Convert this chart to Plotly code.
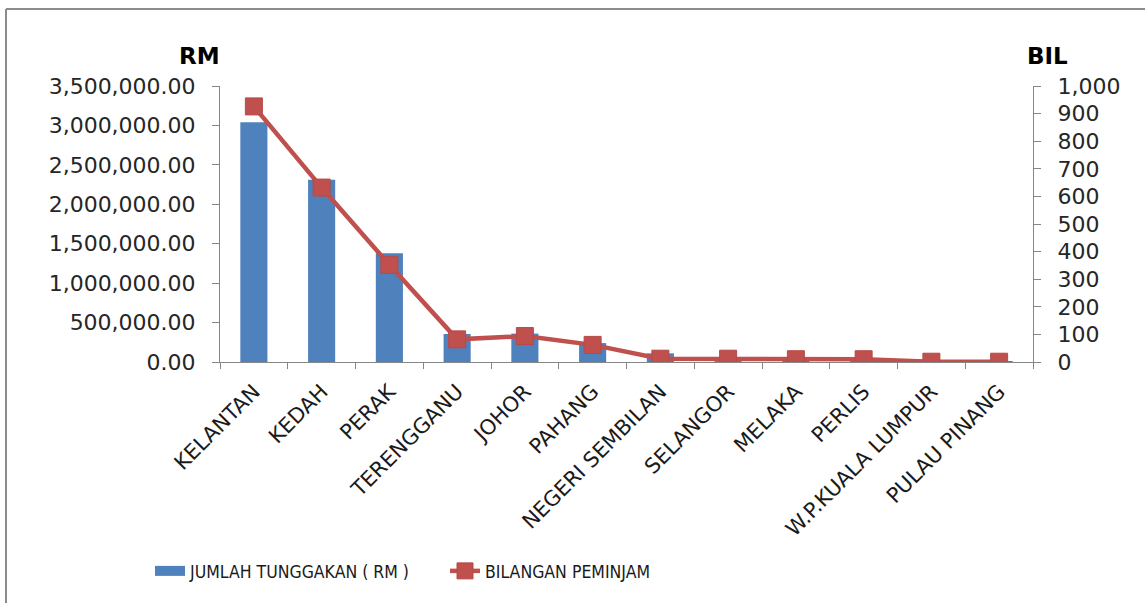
import plotly.graph_objects as go

# ---- data ----
states = ["KELANTAN", "KEDAH", "PERAK", "TERENGGANU", "JOHOR", "PAHANG",
          "NEGERI SEMBILAN", "SELANGOR", "MELAKA", "PERLIS",
          "W.P.KUALA LUMPUR", "PULAU PINANG"]
tunggakan_rm = [3040000, 2310000, 1380000, 355000, 360000, 240000,
                110000, 50000, 40000, 40000, 20000, 10000]
bil_peminjam = [926, 632, 352, 82, 94, 62, 12, 12, 10, 10, 1, 1]

BAR_NAME = "JUMLAH TUNGGAKAN ( RM )"
LINE_NAME = "BILANGAN PEMINJAM"

BLUE = "#4F81BD"
RED = "#C0504D"
AX = "#868686"

W, H = 1145, 603
L, R, T, B = 220, 1033, 86, 362  # plot area pixel bounds


def px(x):
    return (x - L) / (R - L)


def py(y):
    return (B - y) / (B - T)


tick_font = dict(family="DejaVu Sans", size=22, color="#262626")

fig = go.Figure()
fig.add_trace(go.Bar(x=states, y=tunggakan_rm, name=BAR_NAME, marker_color=BLUE,
                     marker_line_width=0, showlegend=False, legendgroup="bar",
                     yaxis="y"))
# legend swatch for the bar series (wide rectangle like the original)
fig.add_trace(go.Scatter(x=[None], y=[None], mode="lines", name=BAR_NAME,
                         line=dict(color=BLUE, width=13), legendgroup="bar",
                         showlegend=True, yaxis="y"))
fig.add_trace(go.Scatter(x=states, y=bil_peminjam, name=LINE_NAME, mode="lines+markers",
                         line=dict(color=RED, width=4.5),
                         marker=dict(symbol="square", size=17, color=RED,
                                     line=dict(color="#B64A47", width=1)),
                         yaxis="y2"))

fig.update_layout(
    width=W, height=H,
    margin=dict(l=L, r=W - R, t=T, b=H - B),
    paper_bgcolor="white", plot_bgcolor="white",
    bargap=0.6,
    showlegend=True,
    legend=dict(orientation="h", x=px(150), xanchor="left", y=py(571), yanchor="middle",
                font=dict(family="DejaVu Sans Condensed, DejaVu Sans, sans-serif",
                          size=17.5, color="#1a1a1a"),
                entrywidth=250, entrywidthmode="pixels", itemwidth=30,
                bgcolor="rgba(0,0,0,0)"),
    xaxis=dict(type="category", tickangle=-45, showline=True, linecolor=AX, linewidth=1,
               ticks="outside", tickson="boundaries", ticklen=6, tickcolor=AX,
               showgrid=False, tickfont=dict(family="DejaVu Sans", size=21, color="#1a1a1a"),
               ticklabelstandoff=8,
               range=[-0.5, len(states) - 0.5]),
    yaxis=dict(range=[0, 3500000], dtick=500000, tickformat=",.2f", showline=True,
               linecolor=AX, linewidth=1, ticks="outside", ticklen=7, tickcolor=AX,
               showgrid=False, zeroline=False, tickfont=tick_font, ticklabelstandoff=12),
    yaxis2=dict(range=[0, 1000], dtick=100, tickformat=",", overlaying="y", side="right",
                showline=True, linecolor=AX, linewidth=1, ticks="outside", ticklen=7,
                tickcolor=AX, showgrid=False, zeroline=False, tickfont=tick_font,
                ticklabelstandoff=12),
    annotations=[
        dict(text="<b>RM</b>", x=px(222), y=py(56), xref="paper", yref="paper",
             xanchor="right", yanchor="middle", showarrow=False,
             font=dict(family="DejaVu Sans", size=23, color="black")),
        dict(text="<b>BIL</b>", x=px(1025), y=py(56), xref="paper", yref="paper",
             xanchor="left", yanchor="middle", showarrow=False,
             font=dict(family="DejaVu Sans", size=23, color="black")),
    ],
    shapes=[
        dict(type="line", xref="paper", yref="paper", x0=px(6), x1=px(6), y0=py(9), y1=py(610),
             line=dict(color="#8c8c8c", width=2)),
        dict(type="line", xref="paper", yref="paper", x0=px(6), x1=px(1150), y0=py(9), y1=py(9),
             line=dict(color="#8c8c8c", width=2)),
    ],
)

fig.write_html("out.html", config={"displayModeBar": False},
               post_script="document.body.style.margin='0';document.body.style.overflow='hidden';")
